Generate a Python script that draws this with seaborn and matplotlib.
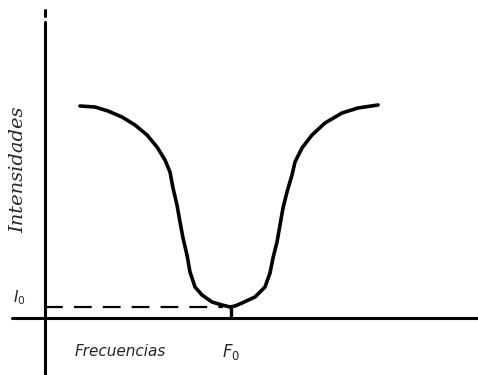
import numpy as np
import pandas as pd
import matplotlib.pyplot as plt
import seaborn as sns

# hand-drawn absorption line (origin at the axes crossing)
frecuencia = [35, 50, 63, 77, 90, 102, 112, 120, 125, 128, 132, 135, 138,
              142, 145, 150, 157, 167, 177, 185,
              190, 197, 210, 220, 225, 228, 232, 235, 238, 242, 247, 250,
              257, 267, 280, 297, 313, 333]
intensidad = [212, 211, 207, 201, 193, 183, 171, 158, 146, 130, 113, 96, 80,
              63, 46, 31, 23, 16, 13, 11,
              12, 15, 21, 31, 45, 60, 76, 93, 110, 126, 143, 156,
              170, 183, 195, 205, 210, 213]
f0 = 186
i0 = 11
x_label = 'Frecuencias'
y_label = 'Intensidades'

sns.set_style('white')
df = pd.DataFrame({'f': frecuencia, 'I': intensidad})

fig = plt.figure(figsize=(4.78, 3.75), dpi=100)
ax = fig.add_axes([0, 0, 1, 1])
ax.set_xlim(-45, 433)
ax.set_ylim(-57, 318)
ax.axis('off')

# curve
sns.lineplot(data=df, x='f', y='I', ax=ax, color='black', linewidth=2.6,
             sort=False, solid_capstyle='round', solid_joinstyle='round')

# hand-drawn axes
ax.plot([0, 0], [-57, 296], color='black', linewidth=2.2)
ax.plot([0, 0], [302, 308], color='black', linewidth=2.2)
ax.plot([-33, 433], [0, 0], color='black', linewidth=2.2)

# I0 dashed guide and F0 marker
ax.plot([0, f0 - 8], [i0, i0], color='black', linewidth=1.6,
        linestyle=(0, (8, 5)))
ax.plot([f0, f0], [0, i0], color='black', linewidth=2.4)

ax.text(-27, 148, y_label, rotation=90, ha='center', va='center',
        fontsize=14, style='italic', family='DejaVu Serif')
ax.text(-26, 20, r'$I_0$', ha='center', va='center', fontsize=11)
ax.text(30, -34, x_label, ha='left', va='center', fontsize=11,
        style='italic')
ax.text(f0, -34, r'$F_0$', ha='center', va='center', fontsize=12)

fig.savefig('out.png', dpi=100)
